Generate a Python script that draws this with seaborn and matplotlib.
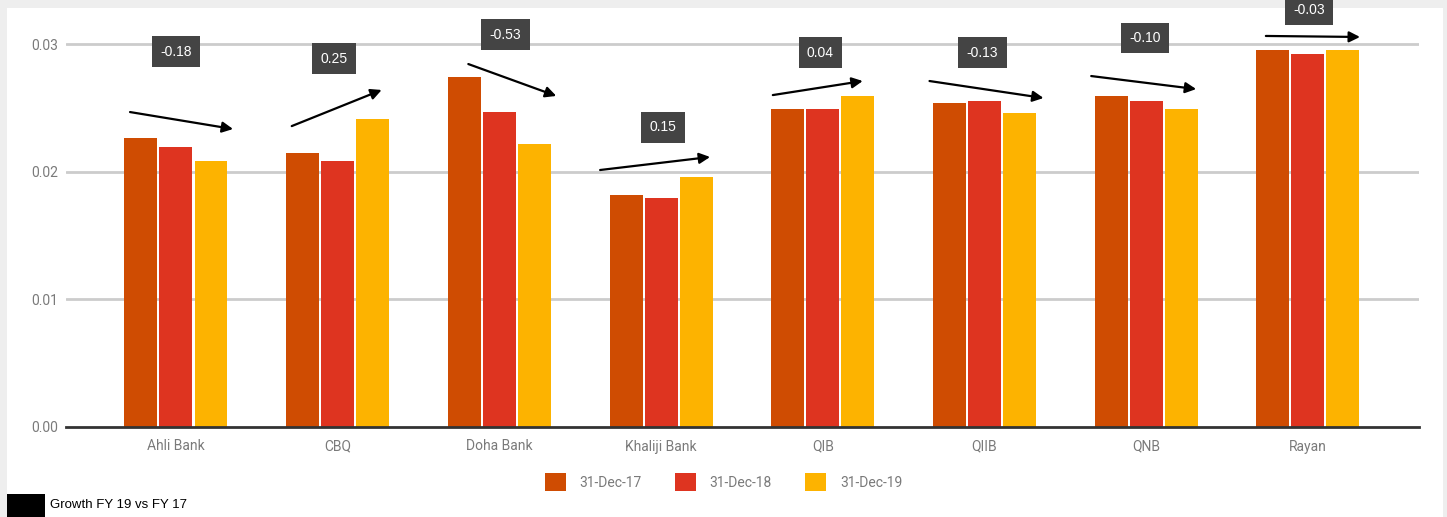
import matplotlib
matplotlib.use("Agg")
import matplotlib.pyplot as plt
from matplotlib.patches import Rectangle, Patch
import seaborn as sns
import pandas as pd

# ---- data ----
banks = ["Ahli Bank", "CBQ", "Doha Bank", "Khaliji Bank", "QIB", "QIIB", "QNB", "Rayan"]
periods = ["31-Dec-17", "31-Dec-18", "31-Dec-19"]
dec17 = [0.0226, 0.0215, 0.0274, 0.0182, 0.0249, 0.0254, 0.0259, 0.0295]
dec18 = [0.0219, 0.0208, 0.0247, 0.0179, 0.0249, 0.0255, 0.0255, 0.0292]
dec19 = [0.0208, 0.0241, 0.0222, 0.0196, 0.0259, 0.0246, 0.0249, 0.0295]
growth_labels = ["-0.18", "0.25", "-0.53", "0.15", "0.04", "-0.13", "-0.10", "-0.03"]
y_ticks = [0.00, 0.01, 0.02, 0.03]
y_tick_labels = ["0.00", "0.01", "0.02", "0.03"]

# ---- annotation layout (offsets relative to category index, in y units) ----
box_dx = [0.0, -0.025, 0.037, 0.012, -0.015, -0.012, -0.006, 0.006]
box_y = [0.02941, 0.02886, 0.03074, 0.02346, 0.02933, 0.02933, 0.03047, 0.0327]
arr_x0 = [-0.284, -0.284, -0.192, -0.377, -0.309, -0.340, -0.340, -0.26]
arr_x1 = [0.353, 0.272, 0.352, 0.303, 0.247, 0.365, 0.309, 0.322]
arr_y0 = [0.02467, 0.02357, 0.02843, 0.02013, 0.0260, 0.0271, 0.02749, 0.03063]
arr_y1 = [0.02334, 0.0264, 0.02593, 0.02115, 0.0271, 0.02577, 0.02647, 0.03055]

colors = ["#CF4C02", "#DE3420", "#FDB300"]

df = pd.DataFrame({
    "bank": banks * 3,
    "period": [periods[0]] * 8 + [periods[1]] * 8 + [periods[2]] * 8,
    "value": dec17 + dec18 + dec19,
})

sns.set_theme(style="white")
plt.rcParams["font.family"] = ["Roboto", "DejaVu Sans"]

W, H = 1447, 517
fig = plt.figure(figsize=(W / 100, H / 100), dpi=100, facecolor="#EEEEEE")
fig.patches.append(Rectangle((7 / W, 0), (1443 - 7) / W, (H - 8) / H,
                             transform=fig.transFigure, facecolor="white",
                             edgecolor="none", zorder=-5))

ax = fig.add_axes([66 / W, 90 / H, (1419 - 66) / W, (427 - 8) / H])
ax.set_facecolor("none")
ax.set_zorder(1)

sns.barplot(data=df, x="bank", y="value", hue="period", palette=colors,
            width=0.65, gap=0.06, saturation=1, linewidth=0, ax=ax,
            errorbar=None, zorder=3)

ax.set_xlim(-0.68, 7.687)
ax.set_ylim(0, 0.03282)
ax.set_yticks(y_ticks)
ax.set_yticklabels(y_tick_labels)
ax.set_xlabel("")
ax.set_ylabel("")
for s in ["top", "right", "left"]:
    ax.spines[s].set_visible(False)
ax.spines["bottom"].set_color("#333333")
ax.spines["bottom"].set_linewidth(2)
ax.spines["bottom"].set_zorder(4)
ax.tick_params(axis="both", length=0, colors="#7A7A7A", labelsize=10)
ax.tick_params(axis="x", pad=9)
ax.tick_params(axis="y", pad=6)
for v in y_ticks[1:]:
    ax.axhline(v, color="#CCCCCC", lw=2, zorder=1)

if ax.get_legend() is not None:
    ax.get_legend().remove()

# growth annotations
for i in range(len(banks)):
    ax.annotate("", xy=(i + arr_x1[i], arr_y1[i]), xytext=(i + arr_x0[i], arr_y0[i]),
                arrowprops=dict(arrowstyle="-|>", color="black", lw=1.6,
                                mutation_scale=16, shrinkA=0, shrinkB=0),
                annotation_clip=False, zorder=6)
    ax.text(i + box_dx[i], box_y[i], growth_labels[i], ha="center", va="center",
            color="white", fontsize=10, family=["Liberation Sans", "DejaVu Sans"],
            bbox=dict(boxstyle="square,pad=0.6", facecolor="#444444", edgecolor="none"),
            clip_on=False, zorder=7)

# legend
handles = [Patch(facecolor=c, edgecolor="none") for c in colors]
fig.legend(handles, periods, loc="center", bbox_to_anchor=(0.5, 1 - 482 / H), ncol=3,
           frameon=False, fontsize=10, labelcolor="#7A7A7A", handlelength=1.5,
           handleheight=1.6, handletextpad=1.0, columnspacing=2.4)

# footer
fig.patches.append(Rectangle((7 / W, 0), (45 - 7) / W, (517 - 494) / H,
                             transform=fig.transFigure, facecolor="black",
                             edgecolor="none", zorder=2))
fig.text(50 / W, 1 - 505 / H, "Growth FY 19 vs FY 17", ha="left", va="center",
         fontsize=9.5, color="black", family=["Liberation Sans", "DejaVu Sans"])

fig.savefig("out.png", dpi=100, facecolor=fig.get_facecolor())
